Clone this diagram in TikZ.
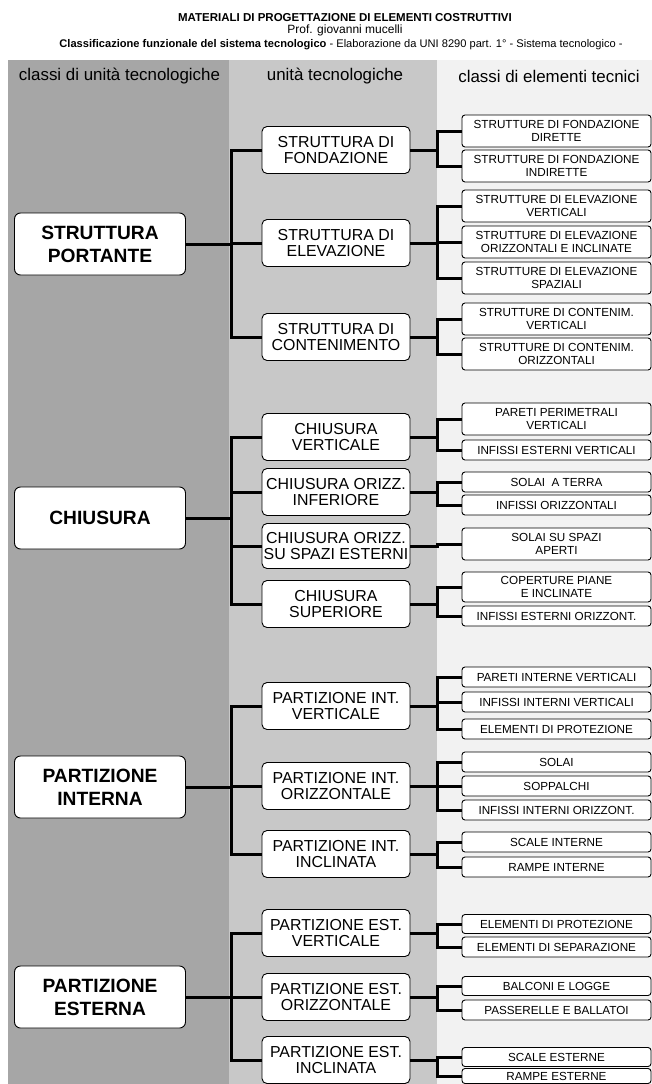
\documentclass[tikz,border=0pt]{standalone}
\usepackage{fontspec}
\setmainfont{Liberation Sans}
\usetikzlibrary{calc}
\definecolor{coldark}{HTML}{A6A6A6}
\definecolor{colmid}{HTML}{C8C8C8}
\definecolor{collight}{HTML}{F2F2F2}
\begin{document}
\begin{tikzpicture}[x=1pt,y=-1pt,
  box/.style={draw=black, line width=0.9pt, fill=white, align=center, inner sep=0pt},
  lone/.style={box, rounded corners=6pt, minimum width=171pt, minimum height=62pt, font=\fontsize{19.2}{23}\selectfont\bfseries},
  ltwo/.style={box, rounded corners=5pt, minimum width=148pt, minimum height=47pt, font=\fontsize{15.9}{16.7}\selectfont},
  lthree/.style={box, rounded corners=3pt, minimum width=189pt, minimum height=32pt, font=\fontsize{11.7}{13.3}\selectfont},
  lthrees/.style={lthree, minimum height=20pt},
  conn/.style={line width=3pt},
  colhead/.style={font=\fontsize{16.9}{18}\selectfont, anchor=center}]
\useasboundingbox (0,0) rectangle (652,1084);
\fill[white] (0,0) rectangle (652,1084);
% columns
\fill[coldark] (8,60) rectangle (229,1084);
\fill[colmid] (229,60) rectangle (437,1084);
\fill[collight] (437,60) rectangle (652,1084);
% header
\node[font=\fontsize{11.5}{12}\selectfont\bfseries] (t1) at (345,18) {MATERIALI DI PROGETTAZIONE DI ELEMENTI COSTRUTTIVI};
\node[font=\fontsize{12}{12}\selectfont] (t2) at (345,30) {Prof. giovanni mucelli};
\node[font=\fontsize{11.1}{12}\selectfont] (t3) at (341,45) {\textbf{Classificazione funzionale del sistema tecnologico} - Elaborazione da UNI 8290 part. 1° - Sistema tecnologico -};
\node[colhead] (h1) at (119.5,76) {classi di unità tecnologiche};
\node[colhead] (h2) at (335,76) {unità tecnologiche};
\node[colhead] (h3) at (549,76) {classi di elementi tecnici};
% bus coordinates
\coordinate (b1) at (231,0);
\coordinate (b2) at (437,0);
% level 1
\node[lone] (sp) at (100,244) {STRUTTURA\\PORTANTE};
\node[lone] (ch) at (100,518) {CHIUSURA};
\node[lone] (pi) at (100,787) {PARTIZIONE\\INTERNA};
\node[lone] (pe) at (100,997) {PARTIZIONE\\ESTERNA};
% level 2
\node[ltwo] (sf) at (336,150) {STRUTTURA DI\\FONDAZIONE};
\node[ltwo] (se) at (336,243) {STRUTTURA DI\\ELEVAZIONE};
\node[ltwo] (sc) at (336,337) {STRUTTURA DI\\CONTENIMENTO};
\node[ltwo] (cv) at (336,437) {CHIUSURA\\VERTICALE};
\node[ltwo] (ci) at (336,492) {CHIUSURA ORIZZ.\\INFERIORE};
\node[ltwo, minimum height=45pt] (ce) at (336,546) {CHIUSURA ORIZZ.\\SU SPAZI ESTERNI};
\node[ltwo] (cs) at (336,604) {CHIUSURA\\SUPERIORE};
\node[ltwo] (iv) at (336,706) {PARTIZIONE INT.\\VERTICALE};
\node[ltwo] (io) at (336,786) {PARTIZIONE INT.\\ORIZZONTALE};
\node[ltwo] (ii) at (336,854) {PARTIZIONE INT.\\INCLINATA};
\node[ltwo] (ev) at (336,933) {PARTIZIONE EST.\\VERTICALE};
\node[ltwo] (eo) at (336,997) {PARTIZIONE EST.\\ORIZZONTALE};
\node[ltwo] (ei) at (336,1060) {PARTIZIONE EST.\\INCLINATA};
% level 3
\node[lthree] (a1) at (556.5,131) {STRUTTURE DI FONDAZIONE\\DIRETTE};
\node[lthree] (a2) at (556.5,166) {STRUTTURE DI FONDAZIONE\\INDIRETTE};
\node[lthree] (a3) at (556.5,206) {STRUTTURE DI ELEVAZIONE\\VERTICALI};
\node[lthree] (a4) at (556.5,242) {STRUTTURE DI ELEVAZIONE\\ORIZZONTALI E INCLINATE};
\node[lthree] (a5) at (556.5,278) {STRUTTURE DI ELEVAZIONE\\SPAZIALI};
\node[lthree] (a6) at (556.5,319) {STRUTTURE DI CONTENIM.\\VERTICALI};
\node[lthree] (a7) at (556.5,354) {STRUTTURE DI CONTENIM.\\ORIZZONTALI};
\node[lthree] (c1) at (556.5,419) {PARETI PERIMETRALI\\VERTICALI};
\node[lthrees] (c2) at (556.5,450) {INFISSI ESTERNI VERTICALI};
\node[lthrees] (c3) at (556.5,482) {SOLAI\ \ A TERRA};
\node[lthrees] (c4) at (556.5,505) {INFISSI ORIZZONTALI};
\node[lthree] (c5) at (556.5,544) {SOLAI SU SPAZI\\APERTI};
\node[lthree, minimum height=30pt] (c6) at (556.5,587) {COPERTURE PIANE\\E INCLINATE};
\node[lthrees] (c7) at (556.5,616) {INFISSI ESTERNI ORIZZONT.};
\node[lthrees] (d1) at (556.5,677) {PARETI INTERNE VERTICALI};
\node[lthrees] (d2) at (556.5,702) {INFISSI INTERNI VERTICALI};
\node[lthrees] (d3) at (556.5,729) {ELEMENTI DI PROTEZIONE};
\node[lthrees] (d4) at (556.5,762) {SOLAI};
\node[lthrees] (d5) at (556.5,786) {SOPPALCHI};
\node[lthrees] (d6) at (556.5,810) {INFISSI INTERNI ORIZZONT.};
\node[lthrees] (d7) at (556.5,842) {SCALE INTERNE};
\node[lthrees] (d8) at (556.5,867) {RAMPE INTERNE};
\node[lthrees, minimum height=19pt] (e1) at (556.5,924) {ELEMENTI DI PROTEZIONE};
\node[lthrees] (e2) at (556.5,947) {ELEMENTI DI SEPARAZIONE};
\node[lthrees, minimum height=19pt] (e3) at (556.5,986) {BALCONI E LOGGE};
\node[lthrees] (e4) at (556.5,1010) {PASSERELLE E BALLATOI};
\node[lthrees, minimum height=19pt] (e5) at (556.5,1057) {SCALE ESTERNE};
\node[lthrees, minimum height=15pt] (e6) at (556.5,1076) {RAMPE ESTERNE};
% connectors level 1 -> 2
\foreach \p/\c in {sp/sf, sp/se, sp/sc, ch/cv, ch/ci, ch/ce, ch/cs, pi/iv, pi/io, pi/ii, pe/ev, pe/eo, pe/ei}
  \draw[conn] (\p.east) -- (\p.east -| b1) |- (\c.west);
% connectors level 2 -> 3
\foreach \p/\c in {sf/a1, sf/a2, se/a3, se/a4, se/a5, sc/a6, sc/a7, cv/c1, cv/c2, ci/c3, ci/c4, ce/c5, cs/c6, cs/c7, iv/d1, iv/d2, iv/d3, io/d4, io/d5, io/d6, ii/d7, ii/d8, ev/e1, ev/e2, eo/e3, eo/e4, ei/e5, ei/e6}
  \draw[conn] (\p.east) -- (\p.east -| b2) |- (\c.west);
\end{tikzpicture}
\end{document}
